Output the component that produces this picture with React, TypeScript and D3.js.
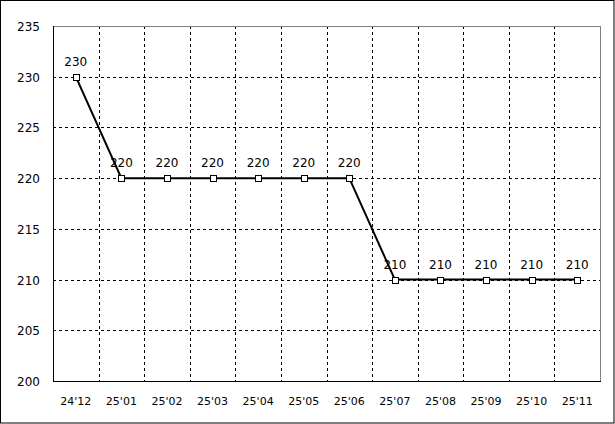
import React, { useEffect } from "react";
import * as d3 from "d3";

const categories = ["24'12", "25'01", "25'02", "25'03", "25'04", "25'05", "25'06", "25'07", "25'08", "25'09", "25'10", "25'11"];
const values = [230, 220, 220, 220, 220, 220, 220, 210, 210, 210, 210, 210];
const yTicks = [200, 205, 210, 215, 220, 225, 230, 235];

const W = 615, H = 424;
const L = 53, T = 26, R = 600, B = 381;
const FONT = "'DejaVu Sans', sans-serif";

export default function App() {
  useEffect(() => {
    document.body.style.margin = "0";
  }, []);
  const x = d3.scaleBand<string>().domain(categories).range([L, R]).paddingInner(0).paddingOuter(0);
  const y = d3.scaleLinear().domain([200, 235]).range([B, T]);
  const cx = (c: string) => (x(c) as number) + x.bandwidth() / 2;
  const line = d3.line<number>().x((_, i) => cx(categories[i])).y((v) => y(v));
  const bounds = categories.slice(1).map((c) => Math.round(x(c) as number) + 0.5);
  return (
    <svg width={W} height={H} style={{ position: "absolute", left: 0, top: 0, display: "block" }}>
      <rect x={0} y={0} width={W} height={H} fill="#fff" />
      <rect x={0.5} y={0.5} width={W - 1.5} height={H - 1.5} fill="none" stroke="#000" strokeWidth={1} />
      {yTicks.filter((t) => t > 200 && t < 235).map((t) => (
        <line key={t} x1={L} x2={R} y1={Math.round(y(t)) + 0.5} y2={Math.round(y(t)) + 0.5} stroke="#000" strokeDasharray="3,3" />
      ))}
      {bounds.map((bx, i) => (
        <line key={i} x1={bx} x2={bx} y1={T} y2={B} stroke="#000" strokeDasharray="3,3" />
      ))}
      <line x1={L} x2={R + 0.5} y1={T + 0.5} y2={T + 0.5} stroke="#808080" />
      <line x1={R + 0.5} x2={R + 0.5} y1={T} y2={B} stroke="#808080" />
      <line x1={L + 0.5} x2={L + 0.5} y1={T} y2={B + 1} stroke="#000" />
      <line x1={L} x2={R + 1} y1={B + 0.5} y2={B + 0.5} stroke="#000" />
      {yTicks.map((t) => (
        <text key={t} x={40} y={y(t) + 5} textAnchor="end" fontFamily={FONT} fontSize={12} fill="#000">{t}</text>
      ))}
      {categories.map((c) => (
        <text key={c} x={cx(c)} y={405} textAnchor="middle" fontFamily={FONT} fontSize={11} fill="#000">{c}</text>
      ))}
      <path d={line(values) || ""} fill="none" stroke="#000" strokeWidth={2} />
      {values.map((v, i) => (
        <rect key={i} x={Math.round(cx(categories[i])) - 3 + 0.5} y={Math.round(y(v)) - 3 + 0.5} width={6} height={6} fill="#fff" stroke="#000" strokeWidth={1} />
      ))}
      {values.map((v, i) => (
        <text key={i} x={cx(categories[i])} y={y(v) - 11} textAnchor="middle" fontFamily={FONT} fontSize={12} fill="#000">{v}</text>
      ))}
    </svg>
  );
}
